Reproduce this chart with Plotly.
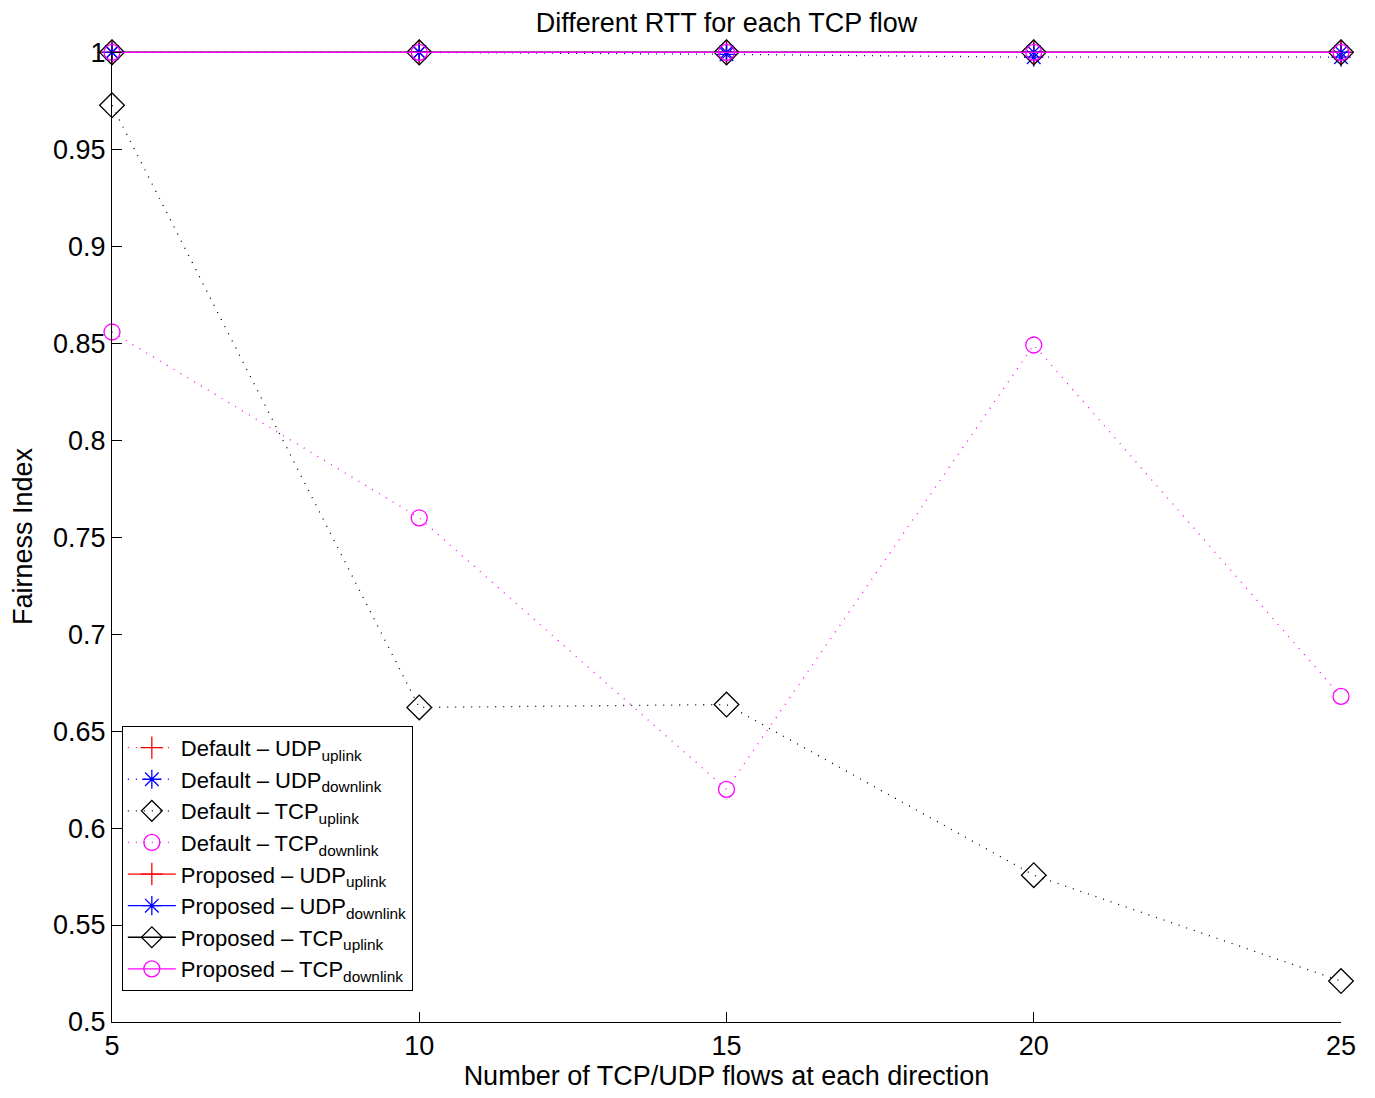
import plotly.graph_objects as go

flows = [5, 10, 15, 20, 25]

default_udp_up = [1.0, 1.0, 1.0, 1.0, 1.0]
default_udp_down = [1.0, 1.0, 0.999, 0.9975, 0.9975]
default_tcp_up = [0.9727, 0.6622, 0.6637, 0.5757, 0.5211]
default_tcp_down = [0.8558, 0.7600, 0.6200, 0.8491, 0.6679]

proposed_udp_up = [1.0, 1.0, 1.0, 1.0, 1.0]
proposed_udp_down = [1.0, 1.0, 1.0, 1.0, 1.0]
proposed_tcp_up = [1.0, 1.0, 1.0, 1.0, 1.0]
proposed_tcp_down = [1.0, 1.0, 1.0, 1.0, 1.0]

y_ticks = [0.5, 0.55, 0.6, 0.65, 0.7, 0.75, 0.8, 0.85, 0.9, 0.95, 1.0]
y_tick_labels = ["0.5", "0.55", "0.6", "0.65", "0.7", "0.75", "0.8", "0.85", "0.9", "0.95", "1"]
x_ticks = [5, 10, 15, 20, 25]

DOT = "1px,7px"
series = [
    ("Default \u2013 UDP<sub>uplink</sub>", default_udp_up, "red", "cross-thin-open", DOT, 18),
    ("Default \u2013 UDP<sub>downlink</sub>", default_udp_down, "blue", "asterisk-open", DOT, 16),
    ("Default \u2013 TCP<sub>uplink</sub>", default_tcp_up, "black", "diamond-open", DOT, 19),
    ("Default \u2013 TCP<sub>downlink</sub>", default_tcp_down, "magenta", "circle-open", DOT, 16),
    ("Proposed \u2013 UDP<sub>uplink</sub>", proposed_udp_up, "red", "cross-thin-open", "solid", 18),
    ("Proposed \u2013 UDP<sub>downlink</sub>", proposed_udp_down, "blue", "asterisk-open", "solid", 16),
    ("Proposed \u2013 TCP<sub>uplink</sub>", proposed_tcp_up, "black", "diamond-open", "solid", 19),
    ("Proposed \u2013 TCP<sub>downlink</sub>", proposed_tcp_down, "magenta", "circle-open", "solid", 16),
]

fig = go.Figure()
for name, ys, color, sym, dash, size in series:
    fig.add_trace(go.Scatter(
        x=flows, y=ys, name=name, mode="lines+markers", cliponaxis=False,
        line=dict(color=color, width=1.3, dash=dash),
        marker=dict(symbol=sym, size=size, color=color, line=dict(color=color, width=1.3)),
    ))

font = "Liberation Sans, Arial, sans-serif"
fig.update_layout(
    width=1367, height=1090,
    margin=dict(l=102, r=34, t=43, b=76),
    plot_bgcolor="white", paper_bgcolor="white",
    font=dict(family=font, size=27, color="black"),
    title=dict(text="Different RTT for each TCP flow", x=0.5, xref="paper", xanchor="center",
               y=0.987, yanchor="middle", font=dict(size=27, color="black")),
    showlegend=True,
    legend=dict(x=0.008, y=0.305, xanchor="left", yanchor="top",
                bgcolor="white", bordercolor="black", borderwidth=1,
                font=dict(size=22, color="black"), tracegroupgap=0,
                itemwidth=48),
    xaxis=dict(range=[5, 25], tickvals=x_ticks, ticktext=[str(v) for v in x_ticks],
               showgrid=False, zeroline=False, showline=True, linecolor="black", linewidth=1,
               ticks="inside", ticklen=10, tickcolor="black",
               title=dict(text="Number of TCP/UDP flows at each direction", standoff=4,
                          font=dict(size=27))),
    yaxis=dict(range=[0.5, 1.0007], tickvals=y_ticks, ticktext=y_tick_labels,
               showgrid=False, zeroline=False, showline=True, linecolor="black", linewidth=1,
               ticks="inside", ticklen=10, tickcolor="black",
               title=dict(text="Fairness Index", standoff=14, font=dict(size=27))),
)

fig.write_html("out.html")
